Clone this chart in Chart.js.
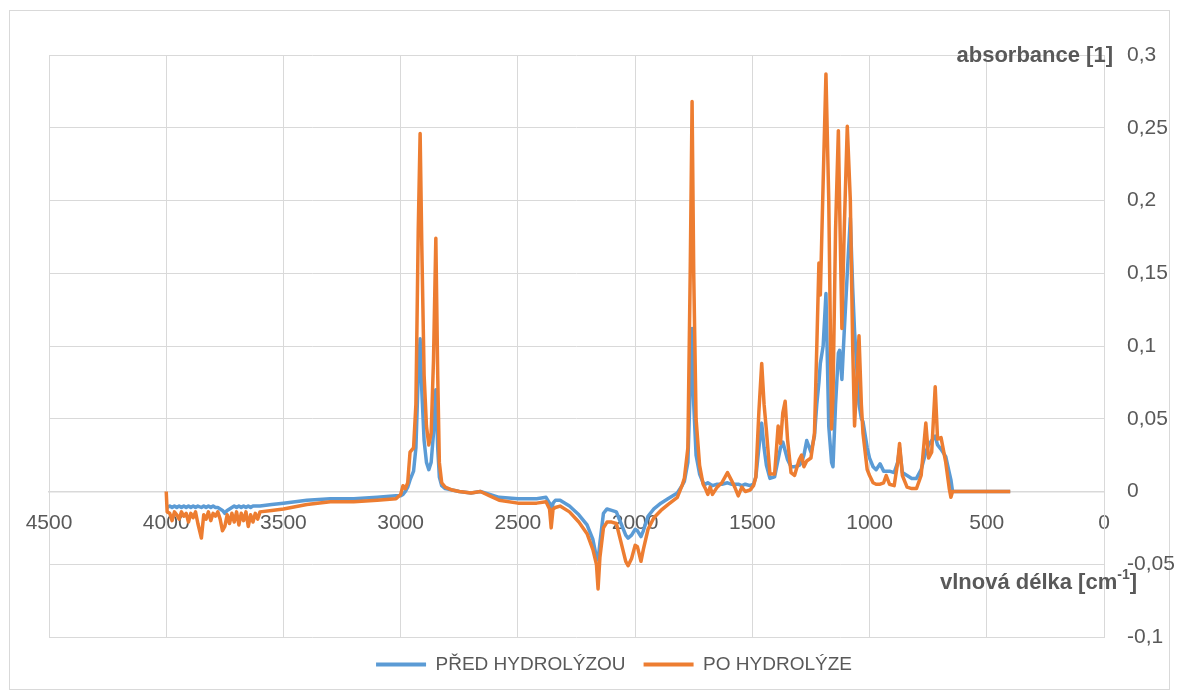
<!DOCTYPE html>
<html>
<head>
<meta charset="utf-8">
<script src="https://cdn.jsdelivr.net/npm/chart.js@4.4.1/dist/chart.umd.min.js"></script>
<style>
  html, body { margin: 0; padding: 0; background: #fff; }
  canvas { display: block; }
</style>
</head>
<body>
<canvas id="chart" width="1179" height="697"></canvas>
<script>
// wavenumber [cm-1]
const wavenumbers = [
  4000, 3996, 3985, 3975, 3965, 3955, 3945, 3935, 3925, 3915,
  3905, 3895, 3885, 3875, 3865, 3850, 3840, 3830, 3820, 3810,
  3800, 3790, 3780, 3770, 3760, 3750, 3740, 3730, 3720, 3710,
  3700, 3690, 3680, 3670, 3660, 3650, 3640, 3630, 3620, 3610,
  3600, 3550, 3500, 3400, 3300, 3200, 3100, 3020, 3000, 2990,
  2980, 2970, 2960, 2945, 2935, 2925, 2917, 2910, 2900, 2890,
  2880, 2870, 2860, 2850, 2842, 2835, 2825, 2810, 2780, 2750,
  2700, 2660, 2620, 2580, 2500, 2420, 2380, 2365, 2358, 2350,
  2340, 2320, 2280, 2240, 2205, 2180, 2165, 2158, 2150, 2135,
  2120, 2100, 2080, 2060, 2040, 2030, 2015, 2000, 1990, 1975,
  1965, 1945, 1920, 1890, 1860, 1820, 1800, 1790, 1775, 1765,
  1757, 1750, 1740, 1725, 1710, 1700, 1690, 1680, 1670, 1650,
  1630, 1606, 1590, 1575, 1560, 1545, 1530, 1510, 1495, 1485,
  1472, 1460, 1450, 1440, 1425, 1405, 1390, 1380, 1370, 1360,
  1350, 1335, 1320, 1300, 1290, 1280, 1268, 1250, 1235, 1225,
  1216, 1210, 1198, 1186, 1174, 1162, 1156, 1145, 1133, 1128,
  1118, 1108, 1095, 1082, 1072, 1064, 1045, 1035, 1028, 1010,
  1000, 985, 972, 955, 940, 929, 915, 895, 880, 872,
  860, 840, 820, 800, 780, 760, 748, 735, 720, 710,
  695, 675, 660, 653, 646, 400
];

// PŘED HYDROLÝZOU
const beforeAbs = [
  -0.011, -0.011, -0.010, -0.011, -0.010, -0.011, -0.010, -0.011, -0.010, -0.011,
  -0.010, -0.011, -0.010, -0.011, -0.010, -0.011, -0.010, -0.011, -0.010, -0.011,
  -0.010, -0.011, -0.011, -0.012, -0.013, -0.015, -0.013, -0.012, -0.011, -0.010,
  -0.011, -0.010, -0.011, -0.010, -0.011, -0.010, -0.011, -0.010, -0.010, -0.010,
  -0.010, -0.009, -0.008, -0.006, -0.005, -0.005, -0.004, -0.003, -0.003, -0.002,
  0.000, 0.003, 0.008, 0.014, 0.030, 0.080, 0.105, 0.070, 0.035, 0.020,
  0.015, 0.020, 0.040, 0.070, 0.030, 0.010, 0.004, 0.002, 0.001, 0.000,
  -0.001, 0.000, -0.002, -0.004, -0.005, -0.005, -0.004, -0.008, -0.015, -0.008,
  -0.006, -0.006, -0.010, -0.016, -0.023, -0.033, -0.045, -0.047, -0.035, -0.015,
  -0.012, -0.013, -0.014, -0.022, -0.030, -0.032, -0.030, -0.026, -0.027, -0.031,
  -0.027, -0.017, -0.012, -0.008, -0.005, -0.001, 0.004, 0.007, 0.020, 0.070,
  0.112, 0.060, 0.025, 0.012, 0.006, 0.005, 0.006, 0.005, 0.004, 0.005,
  0.005, 0.006, 0.005, 0.005, 0.005, 0.004, 0.005, 0.004, 0.005, 0.010,
  0.030, 0.047, 0.030, 0.018, 0.009, 0.010, 0.022, 0.030, 0.034, 0.028,
  0.022, 0.017, 0.017, 0.018, 0.020, 0.025, 0.035, 0.027, 0.038, 0.060,
  0.075, 0.088, 0.100, 0.136, 0.045, 0.020, 0.017, 0.060, 0.095, 0.097,
  0.077, 0.110, 0.150, 0.188, 0.140, 0.110, 0.060, 0.050, 0.048, 0.030,
  0.023, 0.017, 0.015, 0.019, 0.014, 0.014, 0.014, 0.013, 0.020, 0.030,
  0.013, 0.011, 0.009, 0.009, 0.015, 0.027, 0.032, 0.035, 0.038, 0.032,
  0.029, 0.024, 0.013, 0.008, 0.000, 0.000
];

// PO HYDROLÝZE
const afterAbs = [
  0.000, -0.014, -0.015, -0.020, -0.014, -0.016, -0.019, -0.014, -0.017, -0.015,
  -0.021, -0.015, -0.018, -0.014, -0.022, -0.032, -0.016, -0.019, -0.014, -0.020,
  -0.015, -0.017, -0.014, -0.019, -0.027, -0.024, -0.016, -0.022, -0.015, -0.021,
  -0.014, -0.023, -0.015, -0.020, -0.014, -0.024, -0.016, -0.021, -0.015, -0.019,
  -0.014, -0.013, -0.012, -0.009, -0.007, -0.007, -0.006, -0.005, -0.002, 0.004,
  0.002, 0.006, 0.027, 0.030, 0.060, 0.180, 0.246, 0.170, 0.080, 0.045,
  0.032, 0.040, 0.090, 0.174, 0.080, 0.020, 0.006, 0.003, 0.001, 0.000,
  -0.001, 0.000, -0.003, -0.006, -0.008, -0.008, -0.007, -0.012, -0.025, -0.012,
  -0.011, -0.010, -0.014, -0.021, -0.029, -0.040, -0.050, -0.067, -0.045, -0.025,
  -0.021, -0.021, -0.022, -0.035, -0.048, -0.051, -0.046, -0.037, -0.038, -0.048,
  -0.040, -0.026, -0.018, -0.013, -0.009, -0.004, 0.004, 0.009, 0.030, 0.150,
  0.268, 0.150, 0.050, 0.018, 0.005, 0.002, -0.002, 0.003, -0.002, 0.003,
  0.006, 0.013, 0.008, 0.003, -0.003, 0.003, 0.000, 0.001, 0.004, 0.010,
  0.055, 0.088, 0.060, 0.042, 0.012, 0.012, 0.045, 0.033, 0.054, 0.062,
  0.036, 0.013, 0.011, 0.022, 0.025, 0.017, 0.021, 0.023, 0.040, 0.100,
  0.157, 0.135, 0.212, 0.287, 0.200, 0.043, 0.065, 0.180, 0.248, 0.200,
  0.112, 0.180, 0.251, 0.200, 0.100, 0.045, 0.107, 0.060, 0.040, 0.015,
  0.011, 0.006, 0.005, 0.005, 0.006, 0.011, 0.005, 0.004, 0.020, 0.033,
  0.011, 0.003, 0.002, 0.002, 0.011, 0.047, 0.023, 0.027, 0.072, 0.036,
  0.037, 0.020, 0.002, -0.004, 0.000, 0.000
];

const seriesNames = ["PŘED HYDROLÝZOU", "PO HYDROLÝZE"];
const xTicks = { min: 0, max: 4500, step: 500 };
const yTicks = { min: -0.1, max: 0.3, step: 0.05 };

const FONT = "'Liberation Sans', Arial, sans-serif";
const GRID = "#d9d9d9";
const TEXT = "#595959";

const toPoints = vals => wavenumbers.map((w, i) => ({ x: w, y: vals[i] }));

// frame + axis titles
const extras = {
  id: "extras",
  beforeDraw(chart) {
    const ctx = chart.ctx;
    ctx.save();
    ctx.strokeStyle = GRID;
    ctx.lineWidth = 1;
    ctx.strokeRect(9.5, 10.5, 1160, 679);
    ctx.restore();
  },
  afterDraw(chart) {
    const { ctx, chartArea, scales } = chart;
    const y = scales.y;
    ctx.save();
    ctx.fillStyle = TEXT;
    ctx.textBaseline = "middle";
    ctx.textAlign = "right";

    // y title
    ctx.font = "bold 22px " + FONT;
    ctx.fillText("absorbance [1]", chartArea.right + 9, y.getPixelForValue(0.3) + 1);

    // x title with superscript
    const right = chartArea.right + 33;
    const ty = y.getPixelForValue(-0.05) + 19;
    ctx.font = "bold 22px " + FONT;
    const closeW = ctx.measureText("]").width;
    ctx.fillText("]", right, ty);
    ctx.font = "bold 14px " + FONT;
    const supW = ctx.measureText("-1").width;
    ctx.fillText("-1", right - closeW, ty - 8);
    ctx.font = "bold 22px " + FONT;
    ctx.fillText("vlnová délka [cm", right - closeW - supW, ty);
    ctx.restore();
  }
};

new Chart(document.getElementById("chart"), {
  type: "line",
  data: {
    datasets: [
      {
        label: seriesNames[0],
        data: toPoints(beforeAbs),
        borderColor: "#5B9BD5",
        backgroundColor: "#5B9BD5",
        borderWidth: 3.5,
        pointRadius: 0,
        tension: 0,
        borderJoinStyle: "round",
        order: 2
      },
      {
        label: seriesNames[1],
        data: toPoints(afterAbs),
        borderColor: "#ED7D31",
        backgroundColor: "#ED7D31",
        borderWidth: 3.5,
        pointRadius: 0,
        tension: 0,
        borderJoinStyle: "round",
        order: 1
      }
    ]
  },
  options: {
    responsive: false,
    animation: false,
    layout: { padding: { left: 49, top: 55, right: 0, bottom: 13 } },
    plugins: {
      tooltip: { enabled: false },
      legend: {
        position: "bottom",
        labels: {
          font: { family: FONT, size: 19 },
          color: TEXT,
          boxWidth: 50,
          boxHeight: 4,
          padding: 18,
          generateLabels(chart) {
            const items = Chart.defaults.plugins.legend.labels.generateLabels(chart);
            items.forEach(it => { it.lineWidth = 0; it.fillStyle = it.strokeStyle; });
            return items.sort((a, b) => a.datasetIndex - b.datasetIndex);
          }
        }
      }
    },
    scales: {
      x: {
        type: "linear",
        reverse: true,
        min: xTicks.min,
        max: xTicks.max,
        position: { y: 0 },
        grid: { color: GRID, lineWidth: 1, drawTicks: false },
        border: { color: GRID, width: 1.5 },
        ticks: {
          stepSize: xTicks.step,
          padding: 19,
          color: TEXT,
          font: { family: FONT, size: 21 },
          maxRotation: 0,
          callback: v => String(v)
        }
      },
      y: {
        position: "right",
        min: yTicks.min,
        max: yTicks.max,
        grid: { color: GRID, lineWidth: 1, drawTicks: false },
        border: { color: GRID },
        afterFit: s => { s.width = 75; },
        ticks: {
          stepSize: yTicks.step,
          padding: 23,
          color: TEXT,
          font: { family: FONT, size: 21 },
          callback: v => {
            const r = Math.round(v * 100) / 100;
            return (r === 0 ? "0" : String(r)).replace(".", ",");
          }
        }
      }
    }
  },
  plugins: [extras]
});
</script>
</body>
</html>
